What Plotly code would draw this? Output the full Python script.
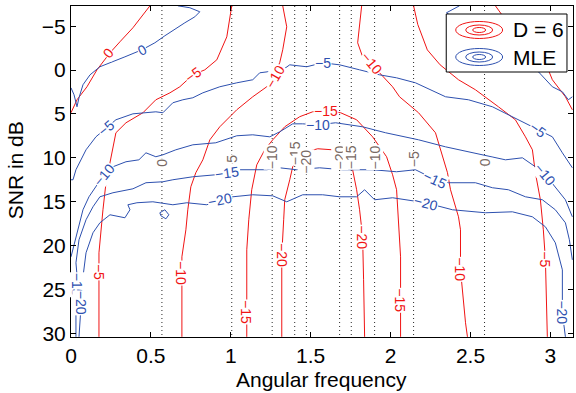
import plotly.graph_objects as go
import math

# ---------------- data ----------------
# D = 6 contours (red): x = angular frequency, y = SNR in dB
R0L_X = [0.494, 0.45, 0.3875, 0.306, 0.244, 0.1625, 0.1, 0.0375, 0]
R0L_Y = [-7.32, -6.3, -4.82, -3.22, -1.97, -0.03, 1.9, 3.38, 4.86]
R0R_X = [2.656, 2.719, 2.8, 2.9, 2.969, 3.0125, 3.094, 3.1375]
R0R_Y = [-7.32, -5.73, -4.25, -2.31, -0.83, 1.1, 3.04, 4.52]
R5L_X = [1.006, 0.994, 0.975, 0.9125, 0.8375, 0.7625, 0.681, 0.619, 0.531, 0.45, 0.344, 0.281, 0.25, 0.219, 0.2, 0.1875, 0.175, 0.175]
R5L_Y = [-7.32, -5.73, -3.79, -1.17, -0.03, 0.54, 1.9, 2.59, 3.38, 4.86, 6.0, 7.14, 9.87, 12.83, 15.91, 18.19, 20.81, 30.38]
R5R_X = [2.144, 2.17, 2.23, 2.31, 2.425, 2.531, 2.675, 2.781, 2.844, 2.8875, 2.906, 2.9375, 2.956, 2.969, 2.981]
R5R_Y = [-7.32, -5.2, -2.3, -0.6, 1.1, 2.24, 4.18, 5.66, 7.6, 9.08, 11.69, 14.77, 18.19, 21.61, 30.38]
R10L_X = [1.325, 1.35, 1.325, 1.306, 1.225, 1.1375, 1.0375, 0.931, 0.869, 0.825, 0.781, 0.75, 0.731, 0.719, 0.694, 0.694]
R10L_Y = [-7.32, -4.93, -2.31, -0.83, 1.9, 3.04, 4.52, 6.46, 7.94, 10.22, 11.69, 13.29, 15.91, 18.19, 21.27, 30.38]
R10R_X = [1.819, 1.806, 1.794, 1.825, 1.881, 1.931, 2.0125, 2.056, 2.175, 2.281, 2.325, 2.356, 2.375, 2.394, 2.425, 2.4375, 2.4375, 2.469, 2.481]
R10R_Y = [-7.32, -5.16, -3.11, -1.51, -0.83, 0.31, 1.9, 3.04, 4.86, 7.14, 9.87, 11.69, 13.63, 14.77, 16.71, 18.19, 22.75, 28.78, 30.38]
R15_X = [1.1, 1.1, 1.1, 1.1125, 1.131, 1.1625, 1.2125, 1.2625, 1.3375, 1.431, 1.5125, 1.594, 1.6875, 1.7875, 1.8875, 1.975, 2.0125, 2.0375, 2.05, 2.0625, 2.0625, 2.0625]
R15_Y = [30.38, 25.03, 20.47, 17.05, 13.63, 10.79, 9.08, 7.94, 6.46, 5.31, 4.75, 4.63, 4.86, 5.66, 7.6, 9.87, 11.92, 13.63, 17.05, 21.27, 26.17, 30.38]
R20_X = [1.319, 1.319, 1.319, 1.331, 1.3375, 1.369, 1.3875, 1.45, 1.544, 1.6375, 1.725, 1.7625, 1.7875, 1.806, 1.825, 1.831, 1.8375]
R20_Y = [30.38, 26.17, 21.04, 17.05, 14.77, 12.49, 11.01, 9.42, 8.96, 9.08, 9.87, 11.35, 13.63, 15.91, 18.99, 23.88, 30.38]

# MLE contours (blue)
B0L_X = [0.669, 0.744, 0.806, 0.775, 0.7125, 0.65, 0.5875, 0.525, 0.444, 0.3375, 0.256, 0.181, 0.119, 0.075, 0.05, 0.0375, 0.019, 0]
B0L_Y = [-7.32, -7.1, -6.64, -6.07, -5.39, -4.7, -3.91, -3.11, -2.31, -1.51, -0.95, -0.38, 0.54, 1.67, 3.15, 4.18, 2.81, 2.02]
B0R_X = [2.431, 2.35, 2.431, 2.556, 2.681, 2.806, 2.925, 3.0125, 3.075, 3.1125, 3.1375]
B0R_Y = [-7.32, -6.53, -5.5, -4.02, -2.54, -1.17, 0.19, 1.9, 2.47, 3.38, 3.04]
B5_X = [0, 0.0125, 0.031, 0.094, 0.156, 0.219, 0.281, 0.3875, 0.45, 0.531, 0.575, 0.6375, 0.7, 0.7625, 0.825, 0.931, 1.0375, 1.1375, 1.181, 1.244, 1.325, 1.369, 1.475, 1.575, 1.681, 1.806, 1.931, 2.0375, 2.156, 2.344, 2.4875, 2.6375, 2.7625, 2.844, 2.925, 3.0125, 3.075, 3.1375]
B5_Y = [12.49, 12.49, 11.35, 9.08, 7.6, 6.57, 5.66, 4.98, 4.86, 4.75, 4.86, 3.72, 3.38, 3.15, 2.59, 1.9, 1.45, 1.1, 0.31, 0.19, -0.03, -0.6, -0.38, -0.83, -0.6, -0.03, 0.54, 0.88, 1.45, 3.04, 3.38, 4.18, 5.31, 6.0, 6.8, 7.6, 9.42, 11.13]
B10_X = [0, 0.0375, 0.075, 0.1125, 0.156, 0.206, 0.2625, 0.344, 0.425, 0.469, 0.531, 0.575, 0.656, 0.7625, 0.906, 1.0375, 1.1375, 1.244, 1.306, 1.3875, 1.45, 1.544, 1.656, 1.825, 1.969, 2.175, 2.344, 2.5125, 2.719, 2.825, 2.906, 2.969, 3.031, 3.094, 3.1375]
B10_Y = [21.27, 18.53, 15.91, 14.43, 13.29, 11.92, 11.01, 10.44, 10.22, 9.42, 9.87, 9.65, 9.08, 8.51, 8.28, 7.48, 7.37, 7.6, 7.03, 6.12, 6.12, 6.23, 6.0, 6.46, 7.14, 7.94, 8.74, 9.42, 10.22, 9.99, 11.01, 11.92, 13.29, 14.77, 16.71]
B15_X = [0.031, 0.031, 0.044, 0.031, 0.05, 0.094, 0.1375, 0.181, 0.2625, 0.3875, 0.469, 0.575, 0.6375, 0.7625, 0.906, 0.975, 1.056, 1.225, 1.306, 1.4125, 1.556, 1.7, 1.8875, 2.0375, 2.156, 2.281, 2.3625, 2.531, 2.6375, 2.7375, 2.844, 2.95, 3.031, 3.094, 3.119, 3.1375]
B15_Y = [30.38, 27.31, 24.68, 21.95, 19.33, 17.05, 15.57, 14.43, 13.97, 13.52, 12.83, 12.72, 12.49, 12.15, 11.92, 11.69, 11.35, 11.35, 11.13, 11.35, 11.13, 11.35, 11.35, 11.58, 11.35, 12.49, 12.83, 12.83, 13.4, 13.63, 14.43, 14.77, 15.91, 17.39, 19.33, 21.61]
B20_X = [0.05, 0.0625, 0.075, 0.094, 0.1375, 0.181, 0.244, 0.3375, 0.369, 0.356, 0.4125, 0.5125, 0.6375, 0.725, 0.85, 0.931, 1.0125, 1.1375, 1.2625, 1.35, 1.45, 1.575, 1.681, 1.7875, 1.8375, 1.9, 2.0125, 2.219, 2.3875, 2.594, 2.7625, 2.8875, 2.969, 3.031, 3.075, 3.075, 3.094]
B20_Y = [30.38, 26.51, 23.55, 20.81, 18.53, 17.39, 16.48, 16.82, 15.91, 15.34, 15.11, 15.0, 15.34, 15.11, 15.34, 14.77, 14.43, 14.2, 14.32, 15.0, 14.2, 14.2, 14.43, 14.43, 13.63, 14.77, 14.54, 15.11, 15.91, 16.25, 16.14, 16.71, 17.85, 19.67, 22.75, 27.64, 30.38]
B20LOOP_X = [0.556, 0.5875, 0.6125, 0.594, 0.5625, 0.556]
B20LOOP_Y = [16.25, 15.91, 16.48, 16.94, 16.59, 16.25]

# contour labels
RED_LBL_X = [0.231, 0.7625, 0.175, 2.969, 1.275, 0.6875, 1.881, 2.4375, 1.594, 1.094, 2.0625, 1.319, 1.825]
RED_LBL_Y = [-1.97, 0.54, 22.98, 21.6, 0.76, 23.1, -0.83, 22.75, 4.63, 27.53, 26.17, 21.04, 18.99]
RED_LBL_T = ["0", "−5", "−5", "−5", "−10", "−10", "−10", "−10", "−15", "−15", "−15", "−20", "−20"]
RED_LBL_A = [-50, -36, 90, 90, -60, 90, 50, 90, 0, 90, 90, 90, 90]
BLUE_LBL_X = [0.444, 0.219, 1.575, 2.925, 0.206, 1.544, 2.969, 0.975, 2.281, 0.931, 2.219, 0.0375, 0.0625, 3.075]
BLUE_LBL_Y = [-2.31, 6.57, -0.83, 6.8, 11.92, 6.23, 11.92, 11.69, 12.49, 14.77, 15.11, 24.45, 26.51, 27.64]
BLUE_LBL_T = ["0", "−5", "−5", "−5", "−10", "−10", "−10", "−15", "−15", "−20", "−20", "−15", "−20", "−20"]
BLUE_LBL_A = [-28, -40, 0, 35, -50, 0, 50, -8, 25, -12, 15, 90, 90, 90]

# dotted reference frequencies and their labels
REF_X = [0.569, 1.006, 1.259, 1.4, 1.473, 1.681, 1.754, 1.9, 2.144, 2.588]
REF_LBL_Y = [10.56, 10.6, 9.9, 9.5, 10.4, 10.0, 9.9, 10.0, 10.2, 10.56]
REF_LBL_T = ["0", "−5", "−10", "−15", "−20", "−20", "−15", "−10", "−5", "0"]

X_TICKS = [0, 0.5, 1, 1.5, 2, 2.5, 3]
Y_TICKS = [-5, 0, 5, 10, 15, 20, 25, 30]
X_RANGE = [0, math.pi]
Y_RANGE = [30.4, -7.3]

# ---------------- styling ----------------
RED = "rgb(240,20,20)"
BLUE = "rgb(45,80,175)"
GRAY = "rgb(120,105,100)"
FONT = "Liberation Sans, Arial, Helvetica, sans-serif"
AX_FS = 21
LBL_FS = 14

fig = go.Figure()

# dotted vertical reference lines
dx, dy = [], []
for v in REF_X:
    dx += [v, v, None]
    dy += [Y_RANGE[1], Y_RANGE[0], None]
fig.add_trace(go.Scatter(x=dx, y=dy, mode="lines",
                         line=dict(color="rgb(40,40,40)", width=1, dash="1px,3px"),
                         hoverinfo="skip", showlegend=False))

red_lines = [(R0L_X, R0L_Y), (R0R_X, R0R_Y), (R5L_X, R5L_Y), (R5R_X, R5R_Y),
             (R10L_X, R10L_Y), (R10R_X, R10R_Y), (R15_X, R15_Y), (R20_X, R20_Y)]
blue_lines = [(B0L_X, B0L_Y), (B0R_X, B0R_Y), (B5_X, B5_Y), (B10_X, B10_Y),
              (B15_X, B15_Y), (B20_X, B20_Y), (B20LOOP_X, B20LOOP_Y)]

for xs, ys in red_lines:
    fig.add_trace(go.Scatter(x=xs, y=ys, mode="lines", line=dict(color=RED, width=1),
                             hoverinfo="skip", showlegend=False))
for xs, ys in blue_lines:
    fig.add_trace(go.Scatter(x=xs, y=ys, mode="lines", line=dict(color=BLUE, width=1),
                             hoverinfo="skip", showlegend=False))

ann = []
def add_labels(xs, ys, ts, angs, color, size=LBL_FS):
    for x, y, t, a in zip(xs, ys, ts, angs):
        ann.append(dict(x=x, y=y, xref="x", yref="y", text=t, showarrow=False,
                        textangle=a, font=dict(family=FONT, size=size, color=color),
                        bgcolor="white", borderpad=0, xanchor="center", yanchor="middle"))

add_labels(REF_X, REF_LBL_Y, REF_LBL_T, [-90] * len(REF_X), GRAY, LBL_FS)
add_labels(RED_LBL_X, RED_LBL_Y, RED_LBL_T, RED_LBL_A, RED)
add_labels(BLUE_LBL_X, BLUE_LBL_Y, BLUE_LBL_T, BLUE_LBL_A, BLUE)

# axis titles
ann.append(dict(x=0.499, y=-0.127, xref="paper", yref="paper", text="Angular frequency",
                showarrow=False, font=dict(family=FONT, size=AX_FS, color="black"),
                xanchor="center", yanchor="middle"))
ann.append(dict(x=-0.111, y=0.5045, xref="paper", yref="paper", text="SNR in dB",
                showarrow=False, textangle=-90, font=dict(family=FONT, size=AX_FS, color="black"),
                xanchor="center", yanchor="middle"))

# legend (drawn manually with contour-like icons)
shapes = [dict(type="rect", xref="paper", yref="paper", x0=0.7475, x1=0.988, y0=0.8006, y1=0.9758,
               line=dict(color="black", width=1), fillcolor="white", layer="above")]
for cy, col in [(0.9275, RED), (0.8459, BLUE)]:
    for w, h in [(0.0934, 0.0514), (0.0537, 0.0302), (0.0258, 0.0151)]:
        shapes.append(dict(type="circle", xref="paper", yref="paper",
                           x0=0.8131 - w / 2, x1=0.8131 + w / 2, y0=cy - h / 2, y1=cy + h / 2,
                           line=dict(color=col, width=1), layer="above"))
ann.append(dict(x=0.8767, y=0.9275, xref="paper", yref="paper", text="D = 6", showarrow=False,
                font=dict(family=FONT, size=AX_FS, color="black"), xanchor="left", yanchor="middle"))
ann.append(dict(x=0.8767, y=0.8459, xref="paper", yref="paper", text="MLE", showarrow=False,
                font=dict(family=FONT, size=AX_FS, color="black"), xanchor="left", yanchor="middle"))

axis_common = dict(showline=True, linecolor="black", linewidth=1, mirror="allticks",
                   ticks="inside", ticklen=5, tickcolor="black", showgrid=False, zeroline=False,
                   tickfont=dict(family=FONT, size=AX_FS, color="black"))
fig.update_layout(
    width=576, height=393,
    margin=dict(l=71, r=3, t=6, b=56),
    paper_bgcolor="white", plot_bgcolor="white",
    xaxis=dict(range=X_RANGE, tickvals=X_TICKS, **axis_common),
    yaxis=dict(range=Y_RANGE, tickvals=Y_TICKS, **axis_common),
    annotations=ann, shapes=shapes, showlegend=False,
)
fig.write_html("out.html")
